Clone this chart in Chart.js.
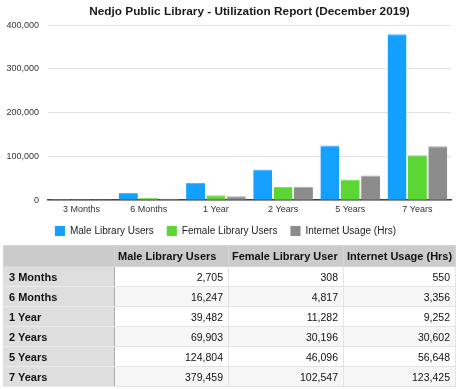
<!DOCTYPE html>
<html lang="en">
<head>
  <meta charset="UTF-8" />
  <title>Nedjo Public Library - Utilization Report</title>
  <script src="https://cdn.jsdelivr.net/npm/chart.js"></script>
  <style>
    body { margin: 0; background: white; font-family: "Liberation Sans", Arial, sans-serif; }
    #wrap { position: relative; width: 459px; height: 389px; overflow: hidden; }
    #chartBox { position: absolute; left: 0; top: 0; width: 459px; height: 246px; }
    #dataTable {
      position: absolute; left: 3px; top: 245px; width: 452px;
      border-collapse: collapse; table-layout: fixed; font-size: 10.5px; color: #111;
    }
    #dataTable th, #dataTable td { height: 19px; padding: 0 5px; border: 1px solid #e4e4e4; white-space: nowrap; overflow: hidden; }
    #dataTable thead th { background: #cbcbcb; text-align: left; font-size: 11px; height: 20px; border-color: #d6d6d6; padding-left: 3px; }
    #dataTable tbody th { background: #dedede; text-align: left; font-size: 11px; border-color: #ececec #aaa #ececec #dedede; }
    #dataTable td { text-align: right; }
    #dataTable tbody tr:nth-child(even) td { background: #f6f6f6; }
  </style>
</head>
<body>
  <div id="wrap">
    <div id="chartBox"><canvas id="barChart"></canvas></div>
    <table id="dataTable">
      <colgroup><col style="width:111px"><col style="width:114px"><col style="width:115px"><col style="width:112px"></colgroup>
      <thead><tr id="headRow"></tr></thead>
      <tbody id="tableBody"></tbody>
    </table>
  </div>
  <script>
    const categories = ['3 Months', '6 Months', '1 Year', '2 Years', '5 Years', '7 Years'];
    const maleUsers = [2705, 16247, 39482, 69903, 124804, 379459];
    const femaleUsers = [308, 4817, 11282, 30196, 46096, 102547];
    const internetHrs = [550, 3356, 9252, 30602, 56648, 123425];
    const seriesNames = ['Male Library Users', 'Female Library Users', 'Internet Usage (Hrs)'];
    const tableHeaders = ['', 'Male Library Users', 'Female Library User', 'Internet Usage (Hrs)'];
    const yTicks = [0, 100000, 200000, 300000, 400000];

    // table under the chart
    const headRow = document.getElementById('headRow');
    tableHeaders.forEach(h => { headRow.innerHTML += `<th>${h}</th>`; });
    const body = document.getElementById('tableBody');
    categories.forEach((c, i) => {
      body.innerHTML += `<tr><th>${c}</th><td>${maleUsers[i].toLocaleString('en-US')}</td>` +
        `<td>${femaleUsers[i].toLocaleString('en-US')}</td><td>${internetHrs[i].toLocaleString('en-US')}</td></tr>`;
    });

    const font = '"Liberation Sans", Arial, sans-serif';
    new Chart(document.getElementById('barChart'), {
      type: 'bar',
      data: {
        labels: categories,
        datasets: [
          { label: seriesNames[0], data: maleUsers, backgroundColor: '#14a0ff', borderColor: '#4db5ff', borderWidth: { top: 1 } },
          { label: seriesNames[1], data: femaleUsers, backgroundColor: '#5bd633', borderColor: '#84e263', borderWidth: { top: 1 } },
          { label: seriesNames[2], data: internetHrs, backgroundColor: '#8c8c8c', borderColor: '#a8a8a8', borderWidth: { top: 1 } }
        ]
      },
      options: {
        responsive: true,
        maintainAspectRatio: false,
        animation: false,
        layout: { padding: { left: 0, right: 8, top: 0, bottom: 0 } },
        datasets: { bar: { categoryPercentage: 0.91, barPercentage: 0.93 } },
        plugins: {
          title: {
            display: true,
            fullSize: false,
            text: 'Nedjo Public Library - Utilization Report (December 2019)',
            color: '#1a1a1a',
            font: { family: font, size: 11.8, weight: 'bold' },
            padding: { top: 5, bottom: 6 }
          },
          legend: {
            position: 'bottom',
            labels: { boxWidth: 10, boxHeight: 10, padding: 13, color: '#222', font: { family: font, size: 10 } }
          },
          tooltip: { enabled: false }
        },
        scales: {
          x: {
            grid: { display: false, drawTicks: false },
            border: { color: '#444', width: 1.5 },
            ticks: { color: '#333', padding: 4, font: { family: font, size: 9 } },
            afterFit: s => { s.height -= 6; }
          },
          y: {
            min: 0, max: 400000,
            afterBuildTicks: s => { s.ticks = yTicks.map(v => ({ value: v })); },
            grid: { color: '#e2e2e2', drawTicks: false },
            border: { display: false },
            ticks: { color: '#333', padding: 9, font: { family: font, size: 9 },
              callback: v => v.toLocaleString('en-US') },
            afterFit: s => { s.width = 48; }
          }
        }
      }
    });
  </script>
</body>
</html>
